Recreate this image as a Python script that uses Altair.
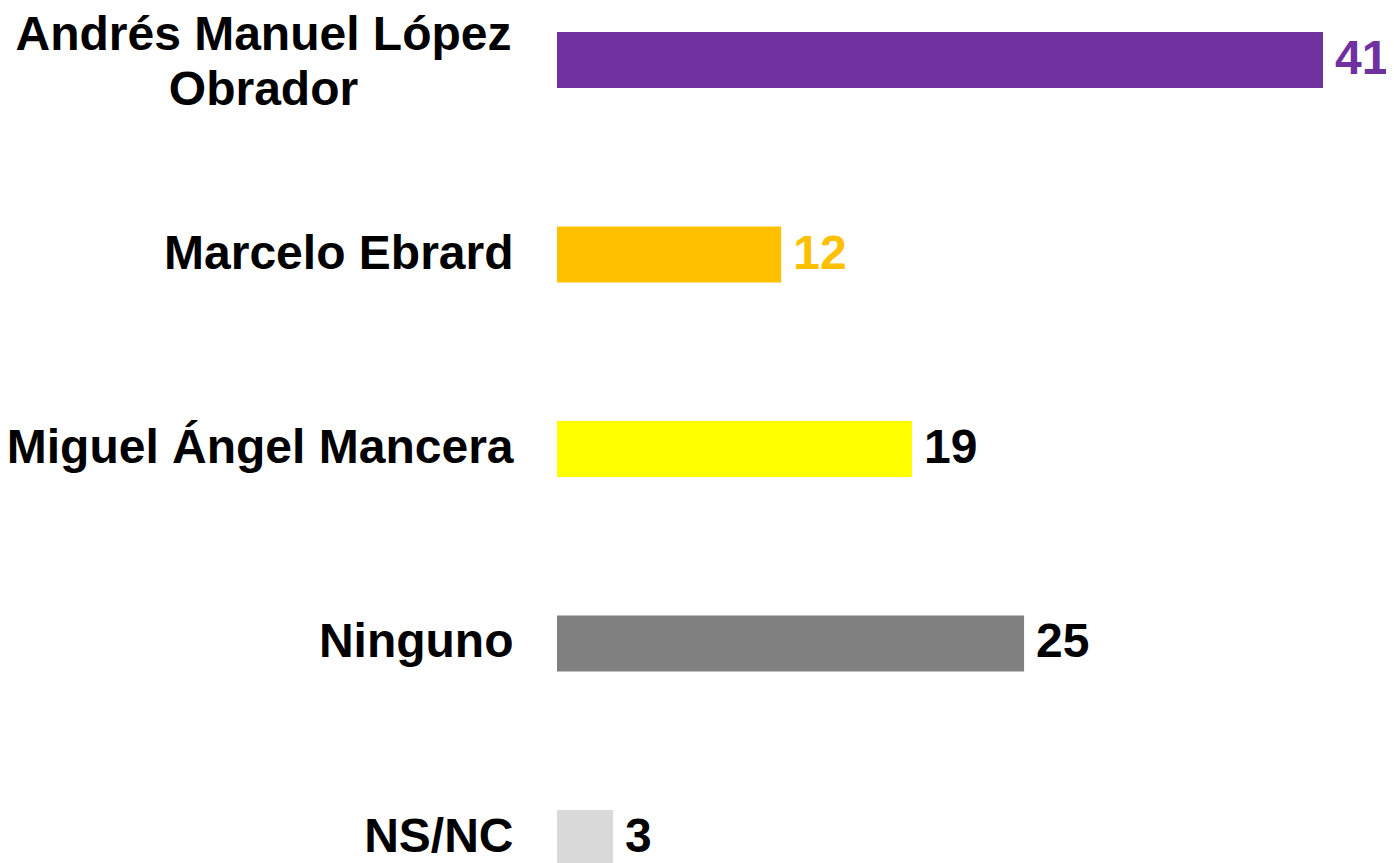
import altair as alt
import pandas as pd

candidates = [
    "Andrés Manuel López\nObrador",
    "Marcelo Ebrard",
    "Miguel Ángel Mancera",
    "Ninguno",
    "NS/NC",
]
values = [41, 12, 19, 25, 3]
bar_colors = ["#7030A0", "#FFC000", "#FFFF00", "#808080", "#D9D9D9"]
label_colors = ["#7030A0", "#FFC000", "#000000", "#000000", "#000000"]

df = pd.DataFrame({
    "candidate": candidates,
    "value": values,
    "bar_color": bar_colors,
    "label_color": label_colors,
})

FONT = "Liberation Sans"
MULTI = "length(split(datum.value, '\\n')) > 1"
TOP = 12

y_enc = alt.Y(
    "candidate:N",
    sort=candidates,
    scale=alt.Scale(range=[-TOP, 882 - TOP], paddingInner=0.712, paddingOuter=0.1234),
    axis=alt.Axis(
        title=None,
        domain=False,
        ticks=False,
        grid=False,
        labelFont=FONT,
        labelFontWeight="bold",
        labelFontSize=48,
        labelColor="#000000",
        labelLineHeight=55,
        labelExpr="split(datum.label, '\\n')",
        labelAlign={"condition": {"test": MULTI, "value": "center"}, "value": "right"},
        labelPadding={"condition": {"test": MULTI, "value": 294}, "value": 44},
        labelOffset={"condition": {"test": MULTI, "value": -24}, "value": 0},
        labelLimit=0,
    ),
)

x_enc = alt.X("value:Q", scale=alt.Scale(domain=[0, 41], nice=False, zero=True), axis=None)

bars = alt.Chart(df).mark_bar().encode(
    x=x_enc,
    y=y_enc,
    color=alt.Color("bar_color:N", scale=None),
)

texts = alt.Chart(df).mark_text(
    align="left", baseline="middle", dx=12, font=FONT, fontWeight="bold", fontSize=48
).encode(
    x=x_enc,
    y=alt.Y("candidate:N", sort=candidates),
    text=alt.Text("value:Q"),
    color=alt.Color("label_color:N", scale=None),
)

chart = alt.layer(bars, texts).properties(
    width=766,
    height=855 - TOP,
    background="#FFFFFF",
    autosize=alt.AutoSizeParams(type="none"),
    padding={"left": 549, "top": TOP, "right": 63, "bottom": 0},
).configure_view(stroke=None, strokeWidth=0)

chart.save("out.html", embed_options={"renderer": "svg", "actions": False})
